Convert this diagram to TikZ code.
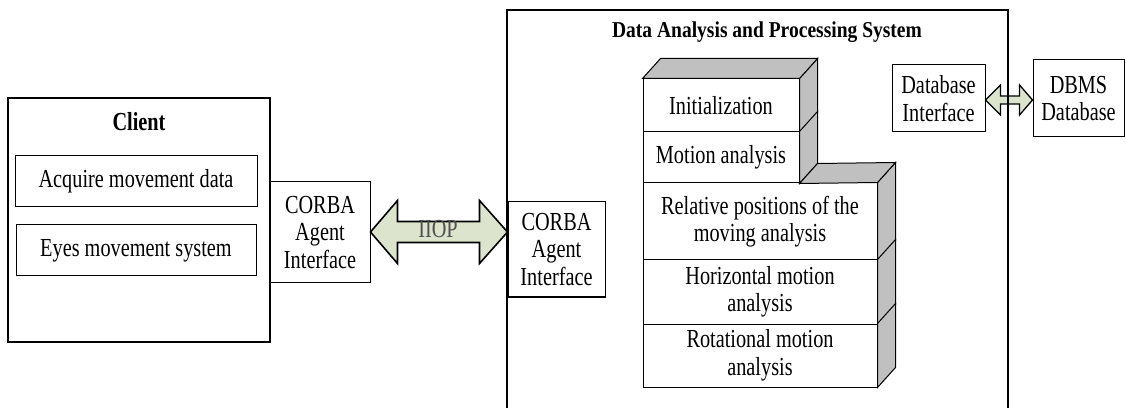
\documentclass[tikz,border=0pt]{standalone}
\usepackage{fontspec}
\setmainfont[FakeStretch=0.78]{Liberation Serif}
\newfontfamily\titlefont[FakeStretch=0.86]{Liberation Serif}
\usetikzlibrary{calc}
\definecolor{sidegray}{RGB}{192,192,192}
\definecolor{arrowgreen}{RGB}{220,228,205}
\definecolor{labelgray}{RGB}{80,80,80}
\begin{document}
\begin{tikzpicture}[x=1pt,y=1pt,
  box/.style={draw, line width=1pt, inner sep=0pt, align=center, fill=white,
    font=\fontsize{26}{27.5}\selectfont},
  frame/.style={draw, line width=1.2pt, inner sep=0pt},
  face/.style={draw, line width=1pt, fill=sidegray},
  dblarrow/.style={draw, line width=1.6pt, fill=arrowgreen, line join=miter},
  titletext/.style={font=\titlefont\fontsize{22.7}{26}\selectfont\bfseries}
]
\useasboundingbox (0,0) rectangle (1126,407);

% Client
\node[frame, minimum width=262pt, minimum height=244pt] (client) at (139,187) {};
\node[font=\fontsize{26}{28}\selectfont\bfseries] (clienttitle) at (139,285) {Client};
\node[box, minimum width=242pt, minimum height=51pt] (acq) at (136,225.5) {Acquire movement data};
\node[box, minimum width=240pt, minimum height=51pt] (eyes) at (136,156.5) {Eyes movement system};
\node[box, minimum width=100pt, minimum height=101pt] (cl) at (320,174.5) {CORBA\\Agent\\Interface};

% Stack
\node[box, minimum width=156pt, minimum height=53pt] (init) at (721,301.5) {Initialization};
\node[box, minimum width=156pt, minimum height=51pt] (motion) at (721,249.5) {Motion analysis};
\node[box, minimum width=234pt, minimum height=77pt] (rel) at (760,185.5) {Relative positions of the\\moving analysis};
\node[box, minimum width=234pt, minimum height=64pt] (hor) at (760,115) {Horizontal motion\\analysis};
\node[box, minimum width=234pt, minimum height=63pt] (rot) at (760,51.5) {Rotational motion\\analysis};

\foreach \b in {init,motion,rel,hor,rot}{
  \draw[face] (\b.north east) -- ++(18,20) -- ($(\b.south east)+(18,20)$) -- (\b.south east) -- cycle;
}
\draw[face] (init.north west) -- ++(18,20) -- ($(init.north east)+(18,20)$) -- (init.north east) -- cycle;
\draw[face] (motion.south east) -- ++(18,20) -- ($(rel.north east)+(18,20)$) -- (rel.north east) -- cycle;

% Right side nodes
\node[box, minimum width=97pt, minimum height=95pt] (cr) at (556.5,157.5) {CORBA\\Agent\\Interface};
\node[box, minimum width=93pt, minimum height=67pt] (dbi) at (938.5,308.5) {Database\\Interface};
\node[box, minimum width=91pt, minimum height=77pt] (dbms) at (1078.5,308.5) {DBMS\\Database};

% IIOP arrow
\path (cl.east) ++(0,0.5) coordinate (aL);
\path (cr.west |- aL) coordinate (aR);
\draw[dblarrow] (aL) -- ($(aL)+(27,31.5)$) -- ($(aL)+(27,10.5)$) -- ($(aR)+(-28,10.5)$)
  -- ($(aR)+(-28,31.5)$) -- (aR) -- ($(aR)+(-28,-31.5)$) -- ($(aR)+(-28,-10.5)$)
  -- ($(aL)+(27,-10.5)$) -- ($(aL)+(27,-31.5)$) -- cycle;
\node[font=\fontsize{26}{28}\selectfont, text=labelgray] (iiop) at (438,178) {IIOP};

% DB arrow
\path (dbi.east) ++(0,-1.5) coordinate (bL);
\path (dbms.west |- bL) coordinate (bR);
\draw[dblarrow, line width=1.3pt] (bL) -- ($(bL)+(15,15)$) -- ($(bL)+(15,4)$) -- ($(bR)+(-13,4)$)
  -- ($(bR)+(-13,15)$) -- (bR) -- ($(bR)+(-13,-15)$) -- ($(bR)+(-13,-4)$)
  -- ($(bL)+(15,-4)$) -- ($(bL)+(15,-15)$) -- cycle;

% System frame
\node[frame, minimum width=501pt, minimum height=402pt] (sys) at (757.5,196) {};
\node[titletext] (systitle) at (767,375) {Data Analysis and Processing System};
\end{tikzpicture}
\end{document}
